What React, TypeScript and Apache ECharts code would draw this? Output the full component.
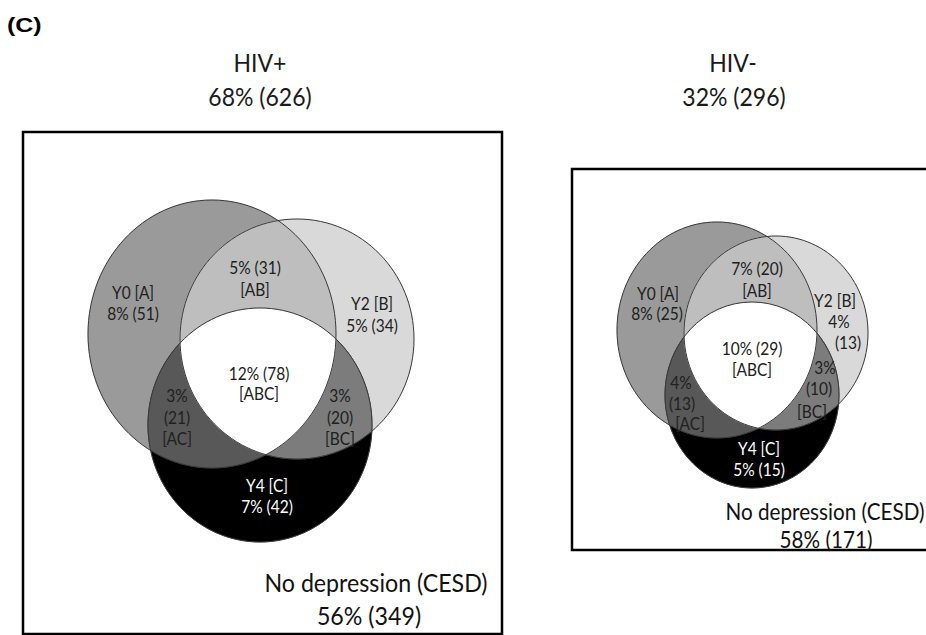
import React, { useEffect, useRef } from "react";
import * as echarts from "echarts";

// ---------------- data ----------------
const PANEL_LABEL = "(C)";
const SET_NAMES = ["Y0", "Y2", "Y4"];
const SET_LETTERS = ["A", "B", "C"];
const REGION_KEYS = ["A", "B", "C", "AB", "AC", "BC", "ABC"];
const GROUPS = ["HIV+", "HIV-"];
const GROUP_PCT = [68, 32];
const GROUP_N = [626, 296];
const HIV_POS_PCT = [8, 5, 7, 5, 3, 3, 12];
const HIV_POS_N = [51, 34, 42, 31, 21, 20, 78];
const HIV_NEG_PCT = [8, 4, 5, 7, 4, 3, 10];
const HIV_NEG_N = [25, 13, 15, 20, 13, 10, 29];
const NONE_LABEL = "No depression (CESD)";
const NONE_PCT = [56, 58];
const NONE_N = [349, 171];

// ---------------- layout ----------------
const FONT = "Lato, 'Open Sans', sans-serif";
const COLORS: Record<string, string> = {
  A: "#9a9a9a",
  B: "#d9d9d9",
  C: "#000000",
  AB: "#bebebe",
  AC: "#585858",
  BC: "#7c7c7c",
  ABC: "#ffffff",
};
type Ell = { cx: number; cy: number; rx: number; ry: number };
type Panel = {
  box: [number, number, number, number];
  ells: Ell[];
  title: [number, number][];
  none: [number, number][];
  noneSize: number;
  labels: Record<string, [number, number][]>;
  lines: Record<string, string>;
};
const PANELS: Panel[] = [
  {
    box: [23, 132, 479, 502],
    ells: [
      { cx: 212, cy: 334, rx: 124, ry: 134 },
      { cx: 297, cy: 339, rx: 117, ry: 120 },
      { cx: 260, cy: 425, rx: 112, ry: 117 },
    ],
    title: [[260, 63], [260, 97]],
    none: [[376, 582], [369, 615]],
    noneSize: 23.2,
    labels: {
      A: [[133, 292], [133, 313]],
      B: [[372, 303], [372, 325]],
      C: [[267, 485], [267, 506]],
      AB: [[255, 267], [255, 289]],
      AC: [[177, 395], [177, 417], [177, 438]],
      BC: [[340, 395], [340, 417], [340, 438]],
      ABC: [[259, 373], [259, 393]],
    },
    lines: { A: "set", B: "set", C: "set", AB: "pair", AC: "triple", BC: "triple", ABC: "pair" },
  },
  {
    box: [572, 169, 370, 381],
    ells: [
      { cx: 717, cy: 330, rx: 100, ry: 108 },
      { cx: 776, cy: 333, rx: 92, ry: 97 },
      { cx: 752, cy: 395, rx: 87, ry: 93 },
    ],
    title: [[733, 63], [734, 97]],
    none: [[825, 511], [826, 539]],
    noneSize: 20.7,
    labels: {
      A: [[658, 293], [657, 313]],
      B: [[835, 300], [839, 321], [848, 342]],
      C: [[759, 448], [759, 469]],
      AB: [[757, 268], [757, 290]],
      AC: [[681, 382], [682, 403], [690, 423]],
      BC: [[825, 367], [819, 388], [812, 411]],
      ABC: [[752, 348], [752, 369]],
    },
    lines: { A: "set", B: "set3", C: "set", AB: "pair", AC: "triple", BC: "triple", ABC: "pair" },
  },
];

// ---------------- geometry helpers ----------------
type Pt = [number, number];
function ellPoly(e: Ell, n = 360): Pt[] {
  const pts: Pt[] = [];
  for (let i = 0; i < n; i++) {
    const t = (i / n) * Math.PI * 2;
    pts.push([e.cx + e.rx * Math.cos(t), e.cy + e.ry * Math.sin(t)]);
  }
  return pts;
}
// Sutherland–Hodgman against a convex clip polygon (positive orientation)
function clipPoly(subject: Pt[], clipP: Pt[]): Pt[] {
  let out = subject.slice();
  const m = clipP.length;
  for (let j = 0; j < m && out.length; j++) {
    const a = clipP[j];
    const b = clipP[(j + 1) % m];
    const side = (p: Pt) => (b[0] - a[0]) * (p[1] - a[1]) - (b[1] - a[1]) * (p[0] - a[0]);
    const input = out;
    out = [];
    const n = input.length;
    for (let i = 0; i < n; i++) {
      const cur = input[i];
      const prev = input[(i - 1 + n) % n];
      const sc = side(cur), sp = side(prev);
      const inter = (): Pt => {
        const t = sp / (sp - sc);
        return [prev[0] + (cur[0] - prev[0]) * t, prev[1] + (cur[1] - prev[1]) * t];
      };
      if (sc >= 0) {
        if (sp < 0) out.push(inter());
        out.push(cur);
      } else if (sp >= 0) {
        out.push(inter());
      }
    }
  }
  return out;
}

function regionLines(kind: string, key: string, idx: number, pct: number, n: number): string[] {
  if (kind === "set") return [`${SET_NAMES[idx]} [${SET_LETTERS[idx]}]`, `${pct}% (${n})`];
  if (kind === "set3") return [`${SET_NAMES[idx]} [${SET_LETTERS[idx]}]`, `${pct}%`, `(${n})`];
  if (kind === "pair") return [`${pct}% (${n})`, `[${key}]`];
  return [`${pct}%`, `(${n})`, `[${key}]`];
}

function buildGraphics() {
  const els: any[] = [];
  let z = 1;
  const txt = (x: number, y: number, text: string, size: number, fill = "#1a1a1a", extra: any = {}, el: any = {}) => ({
    type: "text",
    x,
    y,
    z: 100,
    ...el,
    style: {
      text,
      fill,
      fontSize: size,
      fontFamily: FONT,
      align: "center",
      textAlign: "center",
      verticalAlign: "middle",
      textVerticalAlign: "middle",
      ...extra,
    },
  });
  els.push(
    txt(
      7,
      25,
      PANEL_LABEL,
      20,
      "#000",
      { align: "left", textAlign: "left", fontWeight: "bold", fontFamily: "'Liberation Sans', Arial, sans-serif" },
      { scaleX: 1.25 }
    )
  );
  PANELS.forEach((P, pi) => {
    const pcts = pi === 0 ? HIV_POS_PCT : HIV_NEG_PCT;
    const ns = pi === 0 ? HIV_POS_N : HIV_NEG_N;
    els.push({
      type: "rect",
      z: z++,
      shape: { x: P.box[0], y: P.box[1], width: P.box[2], height: P.box[3] },
      style: { fill: "#fff", stroke: "#000", lineWidth: 2.5 },
    });
    const [pA, pB, pC] = P.ells.map((e) => ellPoly(e));
    const polys: Record<string, Pt[]> = {
      A: pA,
      B: pB,
      C: pC,
      AB: clipPoly(pA, pB),
      AC: clipPoly(pA, pC),
      BC: clipPoly(pB, pC),
    };
    polys.ABC = clipPoly(polys.AB, pC);
    ["A", "B", "C", "AB", "AC", "BC", "ABC"].forEach((k) => {
      els.push({
        type: "polygon",
        z: z++,
        shape: { points: polys[k] },
        style: { fill: COLORS[k], stroke: COLORS[k], lineWidth: 0.5 },
      });
    });
    P.ells.forEach((e) => {
      els.push({
        type: "ellipse",
        z: z++,
        shape: { cx: e.cx, cy: e.cy, rx: e.rx, ry: e.ry },
        style: { fill: "none", stroke: "#3a3a3a", lineWidth: 1 },
      });
    });
    REGION_KEYS.forEach((k, ri) => {
      const lines = regionLines(P.lines[k], k, ri, pcts[ri], ns[ri]);
      const pos = P.labels[k];
      const fill = k === "C" ? "#ffffff" : "#202020";
      lines.forEach((l, li) => {
        els.push(txt(pos[li][0], pos[li][1], l, 15.5, fill, {}, { scaleY: 1.08 }));
      });
    });
    els.push(txt(P.title[0][0], P.title[0][1], GROUPS[pi], 23, "#1a1a1a", {}, { scaleY: 1.05 }));
    els.push(txt(P.title[1][0], P.title[1][1], `${GROUP_PCT[pi]}% (${GROUP_N[pi]})`, 23, "#1a1a1a", {}, { scaleY: 1.05 }));
    els.push(txt(P.none[0][0], P.none[0][1], NONE_LABEL, P.noneSize, "#111", {}, { scaleY: 1.12 }));
    els.push(txt(P.none[1][0], P.none[1][1], `${NONE_PCT[pi]}% (${NONE_N[pi]})`, P.noneSize, "#111", {}, { scaleY: 1.12 }));
  });
  return els;
}

export default function App() {
  const ref = useRef<HTMLDivElement>(null);
  useEffect(() => {
    if (!ref.current) return;
    const chart = echarts.init(ref.current, undefined, { renderer: "svg" });
    chart.setOption({
      animation: false,
      backgroundColor: "#ffffff",
      graphic: { elements: buildGraphics() },
    });
    return () => chart.dispose();
  }, []);
  return (
    <div
      ref={ref}
      style={{ position: "fixed", left: 0, top: 0, width: 926, height: 635, background: "#fff" }}
    />
  );
}
